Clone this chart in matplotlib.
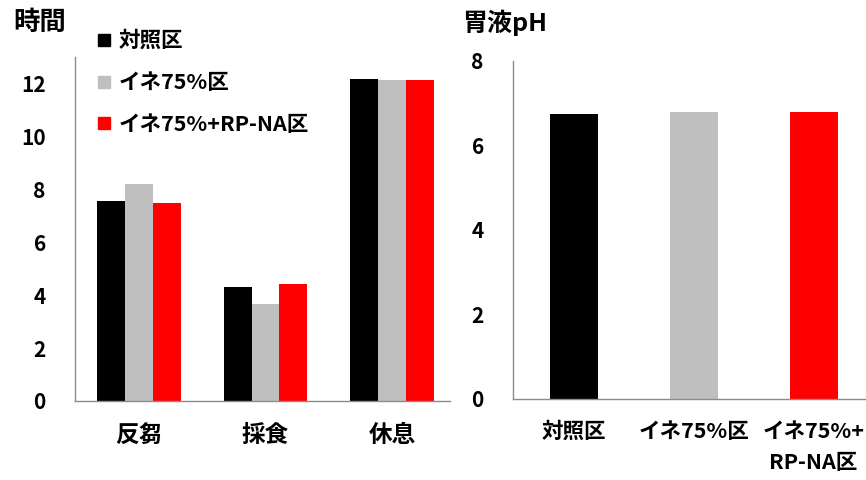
import matplotlib
matplotlib.use("Agg")
import matplotlib.pyplot as plt
from matplotlib.lines import Line2D
import numpy as np

plt.rcParams['font.family'] = ['Noto Sans CJK JP', 'DejaVu Sans']
plt.rcParams['font.weight'] = 'bold'

# Behaviour time (hours) by treatment
behaviours = ["反芻", "採食", "休息"]
treatments = ["対照区", "イネ75%区", "イネ75%+RP-NA区"]
hours_control = [7.55, 4.30, 12.18]
hours_rice75 = [8.20, 3.67, 12.12]
hours_rice75_rpna = [7.47, 4.43, 12.12]

# Rumen fluid pH by treatment
ph_labels = ["対照区", "イネ75%区", "イネ75%+\nRP-NA区"]
ph_values = [6.74, 6.79, 6.79]

colors = ["#000000", "#BFBFBF", "#FF0000"]
spine_color = "#8C8C8C"
fs_y = 15

fig = plt.figure(figsize=(8.66, 4.8), dpi=100)

# Left panel: grouped bars of hours
ax1 = fig.add_axes([0.0866, 0.1646, 0.4334, 0.7164])
x = np.arange(len(behaviours))
w = 0.22
series = [hours_control, hours_rice75, hours_rice75_rpna]
for i, (vals, c) in enumerate(zip(series, colors)):
    ax1.bar(x + (i - 1) * w, vals, width=w, color=c, label=treatments[i])
ax1.set_xlim(-0.506, 2.46)
ax1.set_ylim(0, 13)
ax1.set_yticks(np.arange(0, 13, 2))
ax1.set_xticks(x)
ax1.set_xticklabels(behaviours)

# Right panel: pH bars
ax2 = fig.add_axes([0.5924, 0.169, 0.4066, 0.704])
x2 = np.arange(len(ph_values))
ax2.bar(x2, ph_values, width=0.4, color=colors)
ax2.set_xlim(-0.508, 2.43)
ax2.set_ylim(0, 8)
ax2.set_yticks(np.arange(0, 9, 2))
ax2.set_xticks(x2)
ax2.set_xticklabels(ph_labels, linespacing=1.6, va='top')

for ax, fsx in ((ax1, 17), (ax2, 15.5)):
    for s in ("top", "right"):
        ax.spines[s].set_visible(False)
    for s in ("left", "bottom"):
        ax.spines[s].set_color(spine_color)
        ax.spines[s].set_linewidth(1.0)
    ax.tick_params(axis='both', length=0)
    ax.tick_params(axis='y', pad=21, labelsize=fs_y)
    ax.tick_params(axis='x', pad=16, labelsize=fsx)
    for lab in ax.get_xticklabels() + ax.get_yticklabels():
        lab.set_fontweight('bold')

fig.text(0.015, 0.953, "時間", fontsize=19, fontweight='bold', va='center', ha='left')
fig.text(0.533, 0.953, "胃液pH", fontsize=18, fontweight='bold', va='center', ha='left')

handles = [Line2D([0], [0], marker='s', linestyle='none', markersize=9,
                  markerfacecolor=c, markeredgecolor=c) for c in colors]
leg = fig.legend(handles, treatments, loc='upper left',
                 bbox_to_anchor=(0.103, 0.955), frameon=False,
                 handlelength=0.6, handletextpad=0.35, labelspacing=0.97,
                 borderaxespad=0, prop={'size': 15.5, 'weight': 'bold'})

fig.savefig("out.png", dpi=100)
